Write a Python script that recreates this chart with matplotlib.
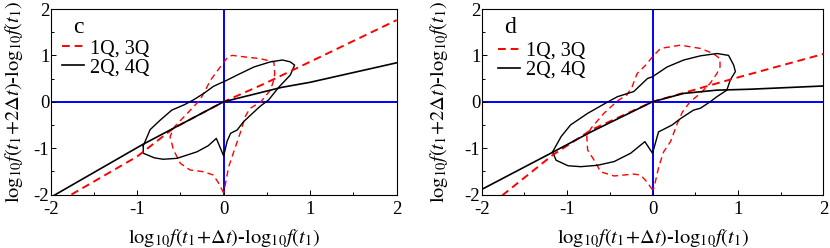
import numpy as np
import matplotlib
matplotlib.use('Agg')
import matplotlib.pyplot as plt
from matplotlib.ticker import MultipleLocator

plt.rcParams['font.family'] = ['Liberation Serif', 'DejaVu Serif']
plt.rcParams['mathtext.fontset'] = 'stix'
plt.rcParams['axes.unicode_minus'] = False

# panel c
c_red_x = [-1.76, -1.0, -0.58, 0.0, 0.46, 1.12, 2.0]
c_red_y = [-2.0, -1.18, -0.57, 0.0, 0.38, 0.97, 1.76]
c_blk_x = [-2.0, -0.945, 0.0, 0.67, 1.0, 2.0]
c_blk_y = [-2.06, -0.93, 0.0, 0.31, 0.42, 0.84]
c_red_loop_x = [0.0, -0.06, -0.12, -0.23, -0.39, -0.50, -0.58, -0.62, -0.57, -0.42, -0.27,
                -0.15, -0.04, 0.05, 0.10, 0.23, 0.42, 0.58, 0.59, 0.58, 0.54, 0.43, 0.30,
                0.25, 0.19, 0.116, 0.058, 0.0]
c_red_loop_y = [-1.97, -1.75, -1.58, -1.51, -1.47, -1.33, -1.04, -0.75, -0.54, -0.25, 0.05,
                0.47, 0.75, 0.97, 1.0, 0.97, 0.93, 0.86, 0.6, 0.47, 0.25, 0.0, -0.15,
                -0.32, -0.68, -1.08, -1.40, -1.97]
c_blk_loop_x = [-0.93, -0.93, -0.80, -0.70, -0.54, -0.31, -0.18, -0.085, 0.0, 0.04, 0.08,
                0.155, 0.23, 0.31, 0.42, 0.52, 0.64, 0.77, 0.82, 0.77, 0.68, 0.54, 0.35,
                0.155, 0.0, -0.04, -0.12, -0.23, -0.35, -0.45, -0.6, -0.73, -0.85, -0.93]
c_blk_loop_y = [-0.95, -1.11, -1.21, -1.24, -1.22, -1.08, -0.95, -0.79, -1.17, -0.85, -0.68,
                -0.61, -0.43, -0.29, -0.10, 0.04, 0.32, 0.575, 0.79, 0.86, 0.90, 0.86, 0.75,
                0.575, 0.43, 0.40, 0.33, 0.18, 0.04, -0.06, -0.18, -0.39, -0.6, -0.95]

# panel d
d_red_x = [-1.76, -1.17, -0.72, 0.0, 0.95, 2.0]
d_red_y = [-2.02, -1.15, -0.61, 0.0, 0.50, 1.03]
d_blk_x = [-2.0, -1.16, -0.72, 0.0, 0.365, 0.75, 1.14, 2.0]
d_blk_y = [-1.89, -1.08, -0.65, 0.0, 0.18, 0.25, 0.27, 0.34]
d_red_loop_x = [0.0, -0.07, -0.14, -0.22, -0.45, -0.61, -0.66, -0.76, -0.77, -0.72, -0.57,
                -0.41, -0.30, -0.24, -0.18, -0.08, 0.0, 0.093, 0.326, 0.56, 0.71, 0.79,
                0.79, 0.754, 0.676, 0.56, 0.44, 0.35, 0.29, 0.21, 0.13, 0.073, 0.015, 0.0]
d_red_loop_y = [-1.90, -1.72, -1.58, -1.56, -1.60, -1.51, -1.33, -1.04, -0.75, -0.57, -0.25,
                0.02, 0.15, 0.32, 0.61, 0.79, 0.97, 1.15, 1.22, 1.15, 1.04, 0.93,
                0.75, 0.61, 0.40, 0.18, 0.0, -0.22, -0.47, -0.86, -1.08, -1.40, -1.87, -1.90]
d_blk_loop_x = [-1.17, -1.13, -0.99, -0.84, -0.645, -0.45, -0.256, -0.09, 0.0, 0.07, 0.23,
                0.33, 0.48, 0.56, 0.675, 0.754, 0.87, 0.91, 0.97, 0.95, 0.89, 0.754, 0.56,
                0.365, 0.17, 0.0, -0.06, -0.22, -0.41, -0.53, -0.76, -0.96, -1.07, -1.17]
d_blk_loop_y = [-1.08, -1.26, -1.38, -1.40, -1.37, -1.29, -1.11, -0.86, -1.11, -0.65, -0.50,
                -0.36, -0.18, -0.14, 0.0, 0.11, 0.25, 0.47, 0.65, 0.79, 1.0, 1.04, 0.99,
                0.90, 0.75, 0.54, 0.50, 0.22, 0.11, -0.01, -0.25, -0.50, -0.75, -1.08]

ticks = [-2, -1, 0, 1, 2]
legend_labels = ['1Q, 3Q', '2Q, 4Q']
xlabel = r'$\mathrm{log}_{10}f(t_{\mathit{1}}\!+\!\Delta t)$-$\mathrm{log}_{10}f(t_{\mathit{1}})$'
ylabel = r'$\mathrm{log}_{10}f(t_{\mathit{1}}\!+\!2\Delta t)$-$\mathrm{log}_{10}f(t_{\mathit{1}})$'

fig = plt.figure(figsize=(8.3, 2.48), dpi=100)
ax_c = fig.add_axes([0.0611, 0.2157, 0.4168, 0.748])
ax_d = fig.add_axes([0.5804, 0.2157, 0.4116, 0.748])

panels = [
    (ax_c, 'c', -0.074, 0.032, 0.735,
     c_red_x, c_red_y, c_blk_x, c_blk_y, c_red_loop_x, c_red_loop_y, c_blk_loop_x, c_blk_loop_y),
    (ax_d, 'd', -0.092, 0.048, 0.72,
     d_red_x, d_red_y, d_blk_x, d_blk_y, d_red_loop_x, d_red_loop_y, d_blk_loop_x, d_blk_loop_y),
]

for ax, letter, ylab_x, leg_x, leg_y, rx, ry, bx, by, rlx, rly, blx, bly in panels:
    ax.axhline(0, color='#0000ff', lw=1.4, zorder=1)
    ax.axvline(0, color='#0000ff', lw=1.4, zorder=1)
    ax.plot(rlx, rly, color='#ff0000', lw=1.0, dashes=(4.5, 3), zorder=2)
    ax.plot(blx, bly, color='black', lw=1.0, zorder=2)
    l1, = ax.plot(rx, ry, color='#ff0000', lw=1.4, dashes=(4, 2.5), zorder=3)
    l2, = ax.plot(bx, by, color='black', lw=1.2, zorder=3)
    ax.set_xlim(-2, 2)
    ax.set_ylim(-2, 2)
    ax.set_xticks(ticks)
    ax.set_yticks(ticks)
    ax.set_xticklabels([str(t) for t in ticks])
    ax.set_yticklabels([str(t) for t in ticks])
    ax.xaxis.set_minor_locator(MultipleLocator(0.5))
    ax.yaxis.set_minor_locator(MultipleLocator(0.5))
    ax.tick_params(which='both', direction='in', top=False, right=False, labelsize=13.5)
    ax.tick_params(axis='x', which='both', pad=5)
    ax.tick_params(axis='y', which='both', pad=1)
    ax.tick_params(which='major', length=3.6, width=0.7)
    ax.tick_params(which='minor', length=2.4, width=0.7)
    for s in ax.spines.values():
        s.set_linewidth(0.8)
    ax.set_xlabel(xlabel, fontsize=14.7)
    ax.set_ylabel(ylabel, fontsize=14.7)
    ax.xaxis.set_label_coords(0.5, -0.175)
    ax.yaxis.set_label_coords(ylab_x, 0.5)
    ax.text(0.065, 0.955, letter, transform=ax.transAxes, fontsize=17, va='top', ha='left')
    ax.legend([l1, l2], legend_labels, loc='center left', bbox_to_anchor=(leg_x, leg_y),
              frameon=False, fontsize=14.5, handlelength=1.1, handletextpad=0.3,
              labelspacing=0.0, borderaxespad=0, borderpad=0)

fig.savefig('out.png', dpi=100)
